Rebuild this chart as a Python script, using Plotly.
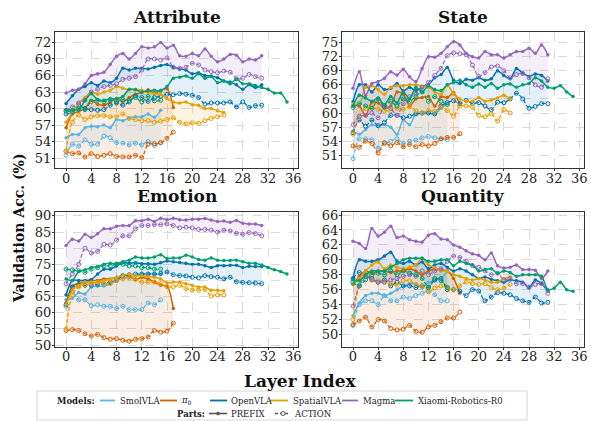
import plotly.graph_objects as go
from plotly.subplots import make_subplots

MODELS = ["SmolVLA", "π0", "OpenVLA", "SpatialVLA", "Magma", "Xiaomi-Robotics-R0"]
MODEL_LABELS = ["SmolVLA", "<i>π</i><sub>0</sub>", "OpenVLA", "SpatialVLA", "Magma", "Xiaomi-Robotics-R0"]
COLORS = ["#56B4E9", "#D55E00", "#0072B2", "#E69F00", "#9467BD", "#009E73"]
TASKS = ["Attribute", "State", "Emotion", "Quantity"]
X_TICKS = [0, 4, 8, 12, 16, 20, 24, 28, 32, 36]
Y_TICKS_ATTR = [51, 54, 57, 60, 63, 66, 69, 72]
Y_TICKS_STATE = [51, 54, 57, 60, 63, 66, 69, 72, 75]
Y_TICKS_EMO = [50, 55, 60, 65, 70, 75, 80, 85, 90]
Y_TICKS_QUANT = [50, 52, 54, 56, 58, 60, 62, 64, 66]

# ---------------- Attribute ----------------
ATTR_SMOLVLA_P = [54.7, 55.3, 55.3, 56.5, 56.8, 56.7, 57.0, 56.5, 58.0, 57.8, 58.3, 58.5, 58.5, 59.0, 58.4, 59.7]
ATTR_SMOLVLA_A = [51.5, 53.5, 53.2, 54.3, 53.5, 53.5, 55.0, 54.7, 53.8, 53.7, 53.4, 53.7, 53.4, 54.0, 53.3, 53.8]
ATTR_PI0_P = [56.5, 59.0, 59.5, 60.0, 61.5, 60.8, 60.6, 61.2, 61.8, 61.2, 62.0, 62.6, 62.9, 63.4, 62.8, 63.3, 63.6, 60.2]
ATTR_PI0_A = [52.2, 51.8, 51.9, 51.2, 51.8, 51.3, 51.5, 51.8, 51.3, 51.2, 51.2, 51.5, 51.1, 53.5, 53.6, 53.8, 54.6, 55.7]
ATTR_OPENVLA_P = [60.9, 62.3, 63.5, 64.0, 64.7, 64.2, 65.0, 64.7, 65.5, 67.3, 67.0, 67.3, 67.3, 67.2, 67.5, 67.8,
                  68.0, 67.5, 67.2, 67.0, 66.3, 66.5, 66.0, 65.9, 65.6, 65.0, 64.8, 64.3, 63.5, 64.3, 63.8, 64.3]
ATTR_OPENVLA_A = [59.0, 59.3, 60.5, 60.0, 59.8, 59.7, 59.8, 60.6, 61.0, 60.6, 61.2, 62.3, 62.0, 61.3, 62.0, 62.2,
                  62.6, 62.5, 62.7, 62.6, 62.4, 62.0, 60.8, 61.0, 61.0, 61.0, 61.2, 60.3, 61.2, 60.2, 60.5, 60.6]
ATTR_SPATIALVLA_P = [57.5, 59.3, 61.0, 62.0, 63.0, 62.6, 63.0, 63.3, 64.0, 63.7, 63.4, 63.5, 63.3, 63.0, 62.7, 62.6,
                     61.8, 61.2, 61.0, 61.2, 60.7, 60.6, 60.0, 60.0, 59.6, 59.3]
ATTR_SPATIALVLA_A = [52.3, 57.5, 58.8, 58.0, 58.5, 58.7, 58.7, 58.5, 58.5, 59.0, 58.2, 58.0, 57.8, 57.8, 57.5, 57.7,
                     58.0, 58.3, 57.5, 57.2, 57.4, 57.3, 57.8, 58.2, 58.5, 58.8]
ATTR_MAGMA_P = [62.8, 63.3, 63.5, 64.5, 66.0, 66.3, 66.6, 68.0, 69.5, 70.0, 69.0, 70.0, 71.2, 71.0, 71.2, 72.0,
                71.0, 71.5, 69.6, 69.5, 70.0, 69.6, 70.8, 69.5, 68.5, 69.0, 69.8, 69.7, 68.5, 69.0, 68.8, 69.6]
ATTR_MAGMA_A = [59.7, 60.3, 61.0, 61.5, 63.0, 63.5, 64.0, 64.2, 64.5, 65.3, 65.5, 65.8, 67.0, 69.0, 69.0, 68.8,
                69.2, 67.5, 67.3, 67.5, 68.2, 67.9, 67.0, 66.7, 66.5, 66.8, 66.6, 65.4, 65.5, 66.2, 65.8, 65.5]
ATTR_XIAOMI_P = [59.8, 59.8, 59.8, 61.5, 62.7, 61.6, 61.5, 61.8, 61.8, 62.2, 63.5, 63.4, 63.0, 63.2, 63.3, 63.2,
                 64.0, 65.5, 65.7, 65.9, 65.5, 66.3, 65.5, 65.8, 64.7, 65.0, 64.5, 65.3, 64.5, 64.5, 64.2, 63.8,
                 63.5, 62.8, 62.8, 61.2]
ATTR_XIAOMI_A = [59.5, 59.5, 60.0, 59.8, 61.3, 61.5, 61.2, 61.5, 61.3, 61.6, 61.5, 62.0, 61.2, 62.2, 61.4, 61.5]

# ---------------- State ----------------
STATE_SMOLVLA_P = [56.2, 55.5, 56.5, 57.5, 57.2, 57.5, 57.0, 55.5, 58.5, 57.5, 59.8, 59.8, 60.0, 59.8, 61.0, 62.0]
STATE_SMOLVLA_A = [50.3, 54.5, 54.5, 54.3, 52.5, 53.5, 54.0, 54.5, 53.5, 54.0, 54.2, 54.7, 55.0, 54.7, 54.5, 54.3]
STATE_PI0_P = [61.5, 61.5, 59.5, 62.3, 62.2, 61.0, 61.5, 64.5, 64.0, 61.5, 63.0, 63.3, 63.5, 61.5, 63.5, 63.3, 64.3, 61.8]
STATE_PI0_A = [53.0, 52.7, 54.0, 53.5, 51.5, 53.7, 53.0, 53.7, 52.8, 53.3, 52.8, 53.3, 53.0, 53.5, 54.5, 54.8, 54.8, 55.6]
STATE_OPENVLA_P = [62.4, 66.0, 66.0, 64.5, 66.0, 65.0, 65.3, 66.3, 64.7, 65.5, 64.8, 65.5, 66.0, 67.5, 68.2, 69.7,
                   67.0, 66.3, 67.2, 67.0, 67.5, 67.0, 67.3, 69.0, 68.0, 67.3, 69.5, 68.5, 67.8, 68.3, 68.0, 66.8]
STATE_OPENVLA_A = [55.8, 58.5, 57.2, 58.5, 57.3, 58.0, 59.5, 59.5, 59.0, 59.3, 59.8, 60.0, 60.0, 59.8, 61.5, 62.2,
                   62.6, 62.0, 62.7, 62.0, 62.2, 61.5, 60.7, 62.3, 62.2, 63.0, 64.2, 63.0, 61.0, 61.4, 62.0, 62.0]
STATE_SPATIALVLA_P = [62.0, 61.8, 65.5, 65.8, 65.0, 64.0, 65.5, 65.8, 65.8, 66.0, 66.0, 65.7, 65.5, 64.5, 64.0, 66.0,
                      64.0, 63.0, 62.5, 62.5, 63.3, 62.5, 62.8, 63.2, 63.8, 63.0]
STATE_SPATIALVLA_A = [55.5, 59.3, 61.0, 61.2, 60.8, 60.5, 60.5, 61.0, 60.8, 61.3, 60.5, 60.0, 60.5, 60.3, 61.2, 60.5,
                      59.3, 61.5, 61.5, 61.2, 59.5, 59.2, 59.8, 58.3, 60.7, 60.0]
STATE_MAGMA_P = [65.3, 68.8, 63.8, 66.3, 66.7, 67.4, 68.8, 68.1, 69.3, 67.7, 66.7, 69.5, 72.0, 71.9, 72.7, 74.1,
                 75.2, 74.5, 72.7, 72.0, 71.7, 73.1, 72.4, 72.4, 71.7, 72.4, 73.1, 73.1, 73.8, 72.7, 74.5, 72.4]
STATE_MAGMA_A = [57.5, 59.3, 59.5, 60.0, 59.0, 61.5, 61.0, 59.5, 62.0, 63.5, 64.0, 65.5, 66.5, 68.0, 69.5, 72.2,
                 72.8, 72.6, 72.4, 70.2, 67.8, 68.6, 69.8, 70.0, 69.0, 67.5, 68.2, 68.4, 67.5, 66.0, 65.5, 67.3]
STATE_XIAOMI_P = [61.5, 63.8, 63.2, 62.5, 63.2, 61.8, 63.5, 62.2, 64.5, 63.0, 65.5, 64.5, 65.8, 65.0, 64.8, 66.0,
                  66.5, 67.0, 66.0, 65.5, 66.2, 65.5, 66.3, 65.3, 66.0, 66.2, 65.5, 66.0, 66.3, 67.5, 66.8, 65.5,
                  65.3, 65.8, 64.5, 63.5]
STATE_XIAOMI_A = [61.2, 62.0, 61.5, 61.0, 63.0, 61.3, 62.5, 61.5, 63.0, 62.5, 63.5, 64.5, 62.5, 63.5, 62.5, 61.8]

# ---------------- Emotion ----------------
EMO_SMOLVLA_P = [64.0, 64.5, 66.3, 65.8, 68.0, 68.2, 68.3, 69.0, 70.0, 70.8, 71.0, 71.5, 72.0, 72.0, 72.0, 71.8]
EMO_SMOLVLA_A = [62.0, 66.5, 64.0, 64.0, 62.2, 62.5, 62.0, 62.0, 61.3, 62.0, 61.0, 61.0, 61.0, 63.0, 62.5, 64.0]
EMO_PI0_P = [63.0, 68.3, 69.2, 69.5, 70.0, 70.0, 70.5, 70.5, 71.0, 71.5, 71.3, 70.3, 71.0, 70.5, 69.5, 68.5, 68.3, 61.3]
EMO_PI0_A = [54.5, 54.8, 54.5, 53.5, 52.8, 53.3, 52.3, 51.8, 52.0, 51.5, 51.2, 51.8, 52.0, 52.5, 54.5, 54.0, 54.3, 56.8]
EMO_OPENVLA_P = [65.5, 70.0, 70.0, 70.0, 70.3, 72.0, 73.5, 73.5, 74.5, 75.5, 75.3, 75.5, 75.2, 75.2, 75.0, 75.5,
                 76.0, 75.8, 75.6, 75.3, 75.0, 75.0, 74.6, 74.0, 74.6, 74.6, 74.7, 74.7, 74.0, 74.4, 74.3, 74.3]
EMO_OPENVLA_A = [62.5, 68.0, 68.5, 68.5, 68.5, 68.8, 69.0, 69.5, 70.0, 71.5, 71.8, 72.0, 72.0, 72.0, 72.0, 72.2,
                 72.6, 71.8, 71.5, 71.4, 71.0, 70.8, 71.5, 71.2, 71.0, 70.5, 71.0, 69.6, 69.4, 69.3, 69.2, 69.0]
EMO_SPATIALVLA_P = [62.5, 67.0, 68.5, 69.5, 69.5, 69.3, 70.0, 70.3, 71.0, 71.5, 72.0, 71.5, 71.5, 71.3, 71.0, 70.5,
                    69.3, 69.5, 69.5, 69.0, 68.5, 68.0, 68.0, 67.0, 67.0, 66.8]
EMO_SPATIALVLA_A = [55.0, 65.5, 68.0, 68.7, 69.0, 69.5, 69.0, 69.0, 70.0, 70.5, 70.8, 70.3, 69.5, 69.5, 69.5, 69.0,
                    68.0, 68.0, 68.5, 67.5, 67.0, 67.0, 67.2, 65.2, 65.5, 65.5]
EMO_MAGMA_P = [80.8, 82.8, 82.2, 84.3, 83.3, 84.5, 86.0, 86.0, 86.8, 87.0, 87.0, 88.5, 88.5, 89.0, 88.3, 89.3,
               88.8, 89.3, 88.8, 88.7, 89.0, 89.0, 89.2, 88.7, 88.3, 88.4, 88.0, 88.6, 87.7, 87.5, 87.5, 87.0]
EMO_MAGMA_A = [69.0, 72.0, 75.0, 80.0, 78.5, 79.0, 81.2, 81.0, 82.5, 83.8, 83.8, 86.0, 87.0, 87.0, 87.3, 87.3,
               87.5, 87.0, 86.3, 86.5, 86.3, 85.8, 85.8, 85.6, 85.0, 85.6, 85.3, 84.6, 84.3, 84.8, 84.5, 83.8]
EMO_XIAOMI_P = [70.5, 70.0, 72.8, 73.3, 74.0, 74.3, 75.0, 75.3, 75.3, 75.8, 76.3, 77.3, 77.0, 77.0, 77.3, 78.0,
                76.8, 77.0, 77.0, 77.8, 77.3, 76.5, 76.3, 77.0, 76.3, 76.2, 76.2, 76.3, 75.8, 75.3, 75.3, 74.8,
                74.0, 73.3, 72.8, 72.0]
EMO_XIAOMI_A = [73.5, 73.3, 73.0, 72.5, 73.5, 74.0, 74.5, 74.5, 75.0, 75.0, 74.5, 74.5, 74.0, 74.0, 73.5, 73.5]

# ---------------- Quantity ----------------
QUANT_SMOLVLA_P = [52.5, 54.2, 55.2, 55.5, 55.5, 55.2, 55.5, 56.0, 56.5, 56.8, 56.7, 56.3, 57.0, 57.2, 57.5, 58.5]
QUANT_SMOLVLA_A = [51.2, 54.0, 54.5, 54.5, 54.0, 55.2, 54.5, 54.5, 55.0, 54.8, 55.2, 55.5, 55.8, 55.3, 54.5, 54.5]
QUANT_PI0_P = [56.7, 57.8, 58.5, 58.2, 58.5, 58.5, 58.3, 58.5, 58.5, 58.8, 58.5, 58.0, 58.5, 58.8, 58.7, 58.5, 57.5, 55.5]
QUANT_PI0_A = [51.3, 51.8, 52.3, 51.0, 52.0, 51.8, 50.8, 50.6, 50.7, 51.2, 50.4, 50.3, 51.0, 51.2, 51.7, 52.2, 52.2, 53.0]
QUANT_OPENVLA_P = [57.5, 60.0, 59.8, 59.8, 60.0, 60.5, 61.0, 59.8, 59.5, 59.8, 59.3, 59.7, 58.8, 59.3, 59.5, 59.0,
                   58.5, 58.8, 58.5, 58.0, 57.5, 57.7, 57.4, 57.2, 57.0, 57.3, 57.2, 57.0, 56.3, 57.3, 56.8, 55.8]
QUANT_OPENVLA_A = [57.5, 58.3, 57.8, 57.5, 57.0, 57.3, 56.5, 57.0, 56.5, 56.5, 56.3, 56.5, 56.3, 57.3, 57.5, 56.0,
                   56.0, 55.8, 55.2, 56.0, 55.8, 54.5, 55.0, 55.6, 55.5, 55.3, 54.8, 54.5, 54.3, 55.0, 54.2, 54.3]
QUANT_SPATIALVLA_P = [56.8, 57.5, 58.5, 59.3, 59.7, 58.8, 59.3, 59.0, 58.8, 59.0, 59.3, 60.2, 59.3, 59.0, 58.5, 58.5,
                      58.0, 57.8, 57.5, 57.3, 57.5, 57.3, 57.0, 57.0, 57.5, 57.7]
QUANT_SPATIALVLA_A = [52.0, 56.5, 58.0, 57.3, 57.2, 57.0, 56.8, 56.6, 57.2, 57.2, 56.7, 56.5, 55.7, 56.2, 56.5, 56.2,
                      56.0, 56.5, 57.0, 56.8, 56.7, 56.8, 56.3, 56.0, 56.2, 56.7]
QUANT_MAGMA_P = [62.5, 62.2, 61.5, 64.2, 63.2, 63.7, 64.5, 63.0, 63.2, 62.7, 62.5, 62.4, 63.3, 63.5, 62.8, 62.7,
                 62.0, 61.7, 61.2, 60.8, 60.6, 60.0, 60.9, 59.2, 58.9, 59.0, 59.3, 58.7, 58.7, 58.6, 57.5, 58.5]
QUANT_MAGMA_A = [53.8, 56.5, 57.8, 57.3, 57.0, 57.0, 57.3, 57.5, 57.8, 58.0, 57.8, 58.5, 58.0, 58.5, 58.8, 59.8,
                 60.5, 60.3, 59.8, 59.2, 59.0, 58.5, 58.0, 58.2, 57.3, 57.5, 56.8, 56.8, 56.3, 56.7, 56.8, 55.5]
QUANT_XIAOMI_P = [57.3, 57.2, 58.0, 58.5, 58.5, 58.5, 59.0, 59.5, 60.0, 60.2, 60.2, 60.2, 59.8, 59.8, 60.0, 60.0,
                  59.2, 59.8, 59.5, 59.3, 58.5, 58.7, 58.8, 58.2, 58.5, 58.3, 57.8, 58.0, 58.0, 58.0, 57.8, 56.0,
                  56.2, 57.0, 56.0, 55.8]
QUANT_XIAOMI_A = [57.0, 56.5, 57.3, 58.0, 58.2, 58.0, 58.5, 58.0, 58.5, 58.2, 58.0, 57.5, 56.3, 57.5, 57.2, 56.3]

DATA = {
    "Attribute": [(ATTR_SMOLVLA_P, ATTR_SMOLVLA_A), (ATTR_PI0_P, ATTR_PI0_A), (ATTR_OPENVLA_P, ATTR_OPENVLA_A),
                  (ATTR_SPATIALVLA_P, ATTR_SPATIALVLA_A), (ATTR_MAGMA_P, ATTR_MAGMA_A), (ATTR_XIAOMI_P, ATTR_XIAOMI_A)],
    "State": [(STATE_SMOLVLA_P, STATE_SMOLVLA_A), (STATE_PI0_P, STATE_PI0_A), (STATE_OPENVLA_P, STATE_OPENVLA_A),
              (STATE_SPATIALVLA_P, STATE_SPATIALVLA_A), (STATE_MAGMA_P, STATE_MAGMA_A), (STATE_XIAOMI_P, STATE_XIAOMI_A)],
    "Emotion": [(EMO_SMOLVLA_P, EMO_SMOLVLA_A), (EMO_PI0_P, EMO_PI0_A), (EMO_OPENVLA_P, EMO_OPENVLA_A),
                (EMO_SPATIALVLA_P, EMO_SPATIALVLA_A), (EMO_MAGMA_P, EMO_MAGMA_A), (EMO_XIAOMI_P, EMO_XIAOMI_A)],
    "Quantity": [(QUANT_SMOLVLA_P, QUANT_SMOLVLA_A), (QUANT_PI0_P, QUANT_PI0_A), (QUANT_OPENVLA_P, QUANT_OPENVLA_A),
                 (QUANT_SPATIALVLA_P, QUANT_SPATIALVLA_A), (QUANT_MAGMA_P, QUANT_MAGMA_A), (QUANT_XIAOMI_P, QUANT_XIAOMI_A)],
}
Y_TICKS = {"Attribute": Y_TICKS_ATTR, "State": Y_TICKS_STATE, "Emotion": Y_TICKS_EMO, "Quantity": Y_TICKS_QUANT}
Y_RANGES = {"Attribute": [49.2, 73.9], "State": [48.3, 77.25], "Emotion": [49.5, 91.3], "Quantity": [48.35, 66.45]}

W, H = 591, 421
FONT = "DejaVu Serif"


def rgba(hexc, a):
    h = hexc.lstrip("#")
    return "rgba(%d,%d,%d,%.3f)" % (int(h[0:2], 16), int(h[2:4], 16), int(h[4:6], 16), a)


fig = make_subplots(rows=2, cols=2)

positions = {"Attribute": (1, 1), "State": (1, 2), "Emotion": (2, 1), "Quantity": (2, 2)}

for task in TASKS:
    r, c = positions[task]
    series = DATA[task]
    for (p, a), col in zip(series, COLORS):
        n = min(len(p), len(a))
        xs = list(range(n))
        fig.add_trace(go.Scatter(x=xs + xs[::-1], y=p[:n] + a[:n][::-1], mode="lines",
                                 fill="toself", fillcolor=rgba(col, 0.11), line=dict(width=0),
                                 hoverinfo="skip", showlegend=False), row=r, col=c)
    for (p, a), col in zip(series, COLORS):
        fig.add_trace(go.Scatter(x=list(range(len(a))), y=a, mode="lines+markers",
                                 line=dict(color=col, width=1.2, dash="4px,2px", shape="spline", smoothing=0.8),
                                 marker=dict(symbol="circle-open", size=4, color=col, line=dict(width=1)),
                                 showlegend=False), row=r, col=c)
        fig.add_trace(go.Scatter(x=list(range(len(p))), y=p, mode="lines+markers",
                                 line=dict(color=col, width=1.5, shape="spline", smoothing=0.8),
                                 marker=dict(symbol="circle", size=3.5, color=col),
                                 showlegend=False), row=r, col=c)

x_doms = [[55 / W, 298 / W], [342 / W, 584 / W]]
y_doms = [[1 - 168 / H, 1 - 32 / H], [1 - 346.7 / H, 1 - 211.7 / H]]
axis_font = dict(family=FONT, size=13, color="#222")
for task in TASKS:
    r, c = positions[task]
    idx = (r - 1) * 2 + c
    xa = "xaxis" if idx == 1 else "xaxis%d" % idx
    ya = "yaxis" if idx == 1 else "yaxis%d" % idx
    common = dict(showline=True, mirror=True, linecolor="#333", linewidth=1.2,
                  showgrid=True, gridcolor="#dadada", griddash="dash", gridwidth=0.7,
                  zeroline=False, ticks="outside", ticklen=2, tickcolor="#333",
                  tickfont=axis_font, automargin=False)
    fig.layout[xa].update(domain=x_doms[c - 1], range=[-1.75, 36.75], tickvals=X_TICKS,
                          ticklabelstandoff=-4, **common)
    fig.layout[ya].update(domain=y_doms[r - 1], range=Y_RANGES[task], tickvals=Y_TICKS[task],
                          ticklabelstandoff=-2, **common)

annotations = []
title_pos = {"Attribute": (176.5, 17), "State": (463, 17), "Emotion": (176.5, 196), "Quantity": (463, 196)}
for task in TASKS:
    px, py = title_pos[task]
    annotations.append(dict(text="<b>%s</b>" % task, x=px / W, y=1 - py / H, xref="paper", yref="paper",
                            showarrow=False, xanchor="center", yanchor="middle",
                            font=dict(family=FONT, size=17, color="#111")))
annotations.append(dict(text="<b>Validation Acc. (%)</b>", x=19 / W, y=1 - 228 / H, xref="paper", yref="paper",
                        showarrow=False, textangle=-90, xanchor="center", yanchor="middle",
                        font=dict(family=FONT, size=14, color="#111")))
annotations.append(dict(text="<b>Layer Index</b>", x=300 / W, y=1 - 381 / H, xref="paper", yref="paper",
                        showarrow=False, xanchor="center", yanchor="middle",
                        font=dict(family=FONT, size=17, color="#111")))

shapes = []
leg_font = dict(family=FONT, size=8.5, color="#222")
shapes.append(dict(type="rect", xref="paper", yref="paper", x0=37 / W, x1=527 / W, y0=1 - 420 / H, y1=1 - 391 / H,
                   line=dict(color="#cccccc", width=0.8), fillcolor="white", layer="below"))
row1 = 1 - 400.5 / H
row2 = 1 - 413.5 / H
annotations.append(dict(text="<b>Models:</b>", x=97 / W, y=row1, xref="paper", yref="paper", showarrow=False,
                        xanchor="right", yanchor="middle", font=leg_font))
leg_lines = [(100, 115, 118), (160, 177, 179), (210, 227, 229), (270, 288, 291), (342, 358, 361), (395, 413, 416)]
for (x0, x1, xt), lab, col in zip(leg_lines, MODEL_LABELS, COLORS):
    shapes.append(dict(type="line", xref="paper", yref="paper", x0=x0 / W, x1=x1 / W, y0=row1, y1=row1,
                       line=dict(color=col, width=1.8)))
    annotations.append(dict(text=lab, x=xt / W, y=row1, xref="paper", yref="paper", showarrow=False,
                            xanchor="left", yanchor="middle", font=leg_font))
annotations.append(dict(text="<b>Parts:</b>", x=207 / W, y=row2, xref="paper", yref="paper", showarrow=False,
                        xanchor="right", yanchor="middle", font=leg_font))
shapes.append(dict(type="line", xref="paper", yref="paper", x0=209 / W, x1=227 / W, y0=row2, y1=row2,
                   line=dict(color="#555", width=1.6)))
shapes.append(dict(type="circle", xref="paper", yref="paper", xsizemode="pixel", ysizemode="pixel",
                   xanchor=218 / W, yanchor=row2, x0=-1.6, x1=1.6, y0=-1.6, y1=1.6,
                   fillcolor="#555", line=dict(color="#555", width=0.5)))
annotations.append(dict(text="PREFIX", x=229 / W, y=row2, xref="paper", yref="paper", showarrow=False,
                        xanchor="left", yanchor="middle", font=leg_font))
shapes.append(dict(type="line", xref="paper", yref="paper", x0=275 / W, x1=290 / W, y0=row2, y1=row2,
                   line=dict(color="#555", width=1.3, dash="3px,2px")))
shapes.append(dict(type="circle", xref="paper", yref="paper", xsizemode="pixel", ysizemode="pixel",
                   xanchor=283 / W, yanchor=row2, x0=-2, x1=2, y0=-2, y1=2,
                   fillcolor="white", line=dict(color="#555", width=1)))
annotations.append(dict(text="ACTION", x=292 / W, y=row2, xref="paper", yref="paper", showarrow=False,
                        xanchor="left", yanchor="middle", font=leg_font))

fig.update_layout(width=W, height=H, margin=dict(l=0, r=0, t=0, b=0),
                  paper_bgcolor="white", plot_bgcolor="white", showlegend=False,
                  annotations=annotations, shapes=shapes, font=dict(family=FONT))

fig.write_html("out.html", config={"displayModeBar": False},
               post_script="document.body.style.margin='0px';")
